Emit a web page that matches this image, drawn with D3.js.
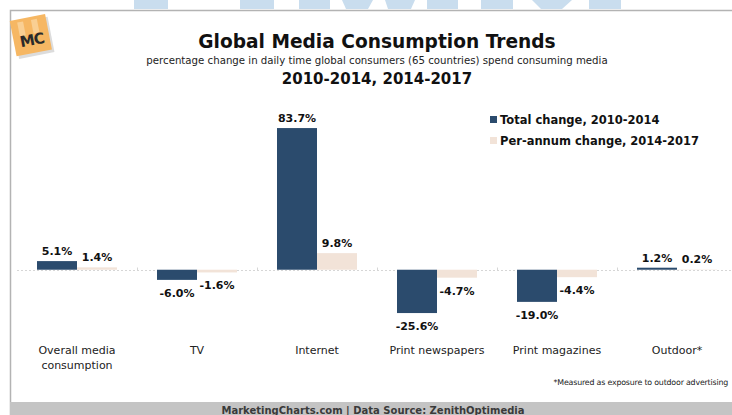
<!DOCTYPE html>
<html>
<head>
<meta charset="utf-8">
<script src="https://cdn.jsdelivr.net/npm/d3@7"></script>
<style>
  html, body { margin: 0; padding: 0; background: #fff; }
  svg { display: block; font-family: "DejaVu Sans", Verdana, sans-serif; }
</style>
</head>
<body>
<svg id="chart" width="732" height="415"></svg>
<script>
// Media categories and the two series of percentage changes
const categories = ["Overall media consumption", "TV", "Internet", "Print newspapers", "Print magazines", "Outdoor*"];
const categoryLines = [["Overall media", "consumption"], ["TV"], ["Internet"], ["Print newspapers"], ["Print magazines"], ["Outdoor*"]];
const totalChange = [5.1, -6.0, 83.7, -25.6, -19.0, 1.2];      // 2010-2014
const perAnnumChange = [1.4, -1.6, 9.8, -4.7, -4.4, 0.2];      // 2014-2017
const seriesNames = ["Total change, 2010-2014", "Per-annum change, 2014-2017"];
const seriesColors = ["#2b4b6d", "#f2e3d8"];

const svg = d3.select("#chart");

// Header band of pale blue letter stubs
const stubs = [
  [[134,0],[168,0],[168,9],[134,9]],
  [[240,0],[274,0],[274,9],[240,9]],
  [[299,0],[330,0],[330,9],[299,9]],
  [[342,0],[373,0],[368,9],[346,9]],
  [[385,0],[415,0],[411,9],[388,9]],
  [[427,0],[458,0],[458,9],[427,9]],
  [[481,0],[513,0],[513,9],[481,9]],
  [[532,0],[572,0],[562,9],[541,9]],
  [[589,0],[621,0],[621,9],[589,9]]
];
svg.append("g").selectAll("polygon").data(stubs).join("polygon")
  .attr("points", d => d.map(p => p.join(",")).join(" "))
  .attr("fill", "#c9ddee");

// Frame
svg.append("path")
  .attr("d", "M10.5,415 L10.5,10.5 L732,10.5")
  .attr("fill", "none").attr("stroke", "#b3b3b3").attr("stroke-width", 1.5);

// Logo
const logo = svg.append("g").attr("transform", "translate(32,36) rotate(-11)");
logo.append("rect").attr("x", -17).attr("y", -16).attr("width", 36).attr("height", 36)
  .attr("fill", "#9a9a9a").attr("opacity", 0.35);
logo.append("rect").attr("x", -19).attr("y", -19).attr("width", 36).attr("height", 36)
  .attr("fill", "#f6b763");
logo.append("rect").attr("x", -12).attr("y", -16).attr("width", 6).attr("height", 14).attr("fill", "#f9cf93");
logo.append("rect").attr("x", 2).attr("y", -16).attr("width", 6).attr("height", 14).attr("fill", "#f9cf93");
logo.append("text").attr("x", -1).attr("y", 9).attr("text-anchor", "middle")
  .attr("font-size", 15).attr("font-weight", "bold").attr("fill", "#2a2a2a")
  .attr("letter-spacing", -1).text("MC");

// Titles
svg.append("text").attr("x", 377).attr("y", 48).attr("text-anchor", "middle")
  .attr("font-size", 18.6).attr("font-weight", "bold").attr("fill", "#111")
  .text("Global Media Consumption Trends");
svg.append("text").attr("x", 377).attr("y", 64).attr("text-anchor", "middle")
  .attr("font-size", 10.2).attr("fill", "#222")
  .text("percentage change in daily time global consumers (65 countries) spend consuming media");
svg.append("text").attr("x", 377).attr("y", 84).attr("text-anchor", "middle")
  .attr("font-size", 15).attr("font-weight", "bold").attr("fill", "#111")
  .text("2010-2014, 2014-2017");

// Scales
const x0 = d3.scaleBand().domain(categories).range([17, 737]).paddingInner(1/3).paddingOuter(1/6);
const x1 = d3.scaleBand().domain([0, 1]).range([0, x0.bandwidth()]);
const y = d3.scaleLinear().domain([-30, 90]).range([320.5, 117.4]);
const fmt = v => v.toFixed(1) + "%";

// Zero baseline with small category separators
const zeroY = Math.round(y(0)) + 0.5;
svg.append("line").attr("x1", 17).attr("x2", 732).attr("y1", zeroY).attr("y2", zeroY)
  .attr("stroke", "#d6d6d6").attr("stroke-dasharray", "2,2");
svg.append("g").selectAll("line").data(categories.slice(1)).join("line")
  .attr("x1", d => Math.round(x0(d) - x0.step() * x0.paddingInner() / 2) + 0.5)
  .attr("x2", d => Math.round(x0(d) - x0.step() * x0.paddingInner() / 2) + 0.5)
  .attr("y1", zeroY - 3).attr("y2", zeroY)
  .attr("stroke", "#d6d6d6");

// Bars
const rows = categories.map((c, i) => ({ cat: c, vals: [totalChange[i], perAnnumChange[i]] }));
const groups = svg.append("g").selectAll("g").data(rows).join("g")
  .attr("transform", d => `translate(${x0(d.cat)},0)`);

groups.selectAll("rect").data(d => d.vals.map((v, k) => ({ v, k }))).join("rect")
  .attr("x", d => x1(d.k))
  .attr("width", x1.bandwidth())
  .attr("y", d => Math.min(y(d.v), y(0)))
  .attr("height", d => Math.abs(y(d.v) - y(0)))
  .attr("fill", d => seriesColors[d.k]);

groups.selectAll("text").data(d => d.vals.map((v, k) => ({ v, k }))).join("text")
  .attr("x", d => x1(d.k) + x1.bandwidth() / 2)
  .attr("y", d => d.v >= 0 ? y(d.v) - 6 : y(d.v) + 17)
  .attr("text-anchor", "middle")
  .attr("font-size", 11).attr("font-weight", "bold").attr("fill", "#111")
  .text(d => fmt(d.v));

// Category labels
const catLabels = svg.append("g").selectAll("text").data(categories).join("text")
  .attr("x", d => x0(d) + x0.bandwidth() / 2)
  .attr("y", 354)
  .attr("text-anchor", "middle")
  .attr("font-size", 11).attr("fill", "#222");
catLabels.each(function(d, i) {
  d3.select(this).selectAll("tspan").data(categoryLines[i]).join("tspan")
    .attr("x", x0(d) + x0.bandwidth() / 2)
    .attr("dy", (t, j) => j === 0 ? 0 : 15)
    .text(t => t);
});

// Legend
const legend = svg.append("g").selectAll("g").data(seriesNames).join("g")
  .attr("transform", (d, i) => `translate(490,${116 + i * 21})`);
legend.append("rect").attr("width", 7).attr("height", 7).attr("fill", (d, i) => seriesColors[i]);
legend.append("text").attr("x", 10).attr("y", 8)
  .attr("font-size", 11.5).attr("font-weight", "bold").attr("fill", "#111")
  .text(d => d);

// Footnote
svg.append("text").attr("x", 728).attr("y", 385).attr("text-anchor", "end")
  .attr("font-size", 7.9).attr("letter-spacing", -0.2).attr("fill", "#222")
  .text("*Measured as exposure to outdoor advertising");

// Source band
svg.append("rect").attr("x", 10).attr("y", 402).attr("width", 722).attr("height", 13).attr("fill", "#c4c4c4");
svg.append("text").attr("x", 373).attr("y", 414).attr("text-anchor", "middle")
  .attr("font-size", 10).attr("font-weight", "bold").attr("fill", "#3a3a3a")
  .text("MarketingCharts.com | Data Source: ZenithOptimedia");
</script>
</body>
</html>
